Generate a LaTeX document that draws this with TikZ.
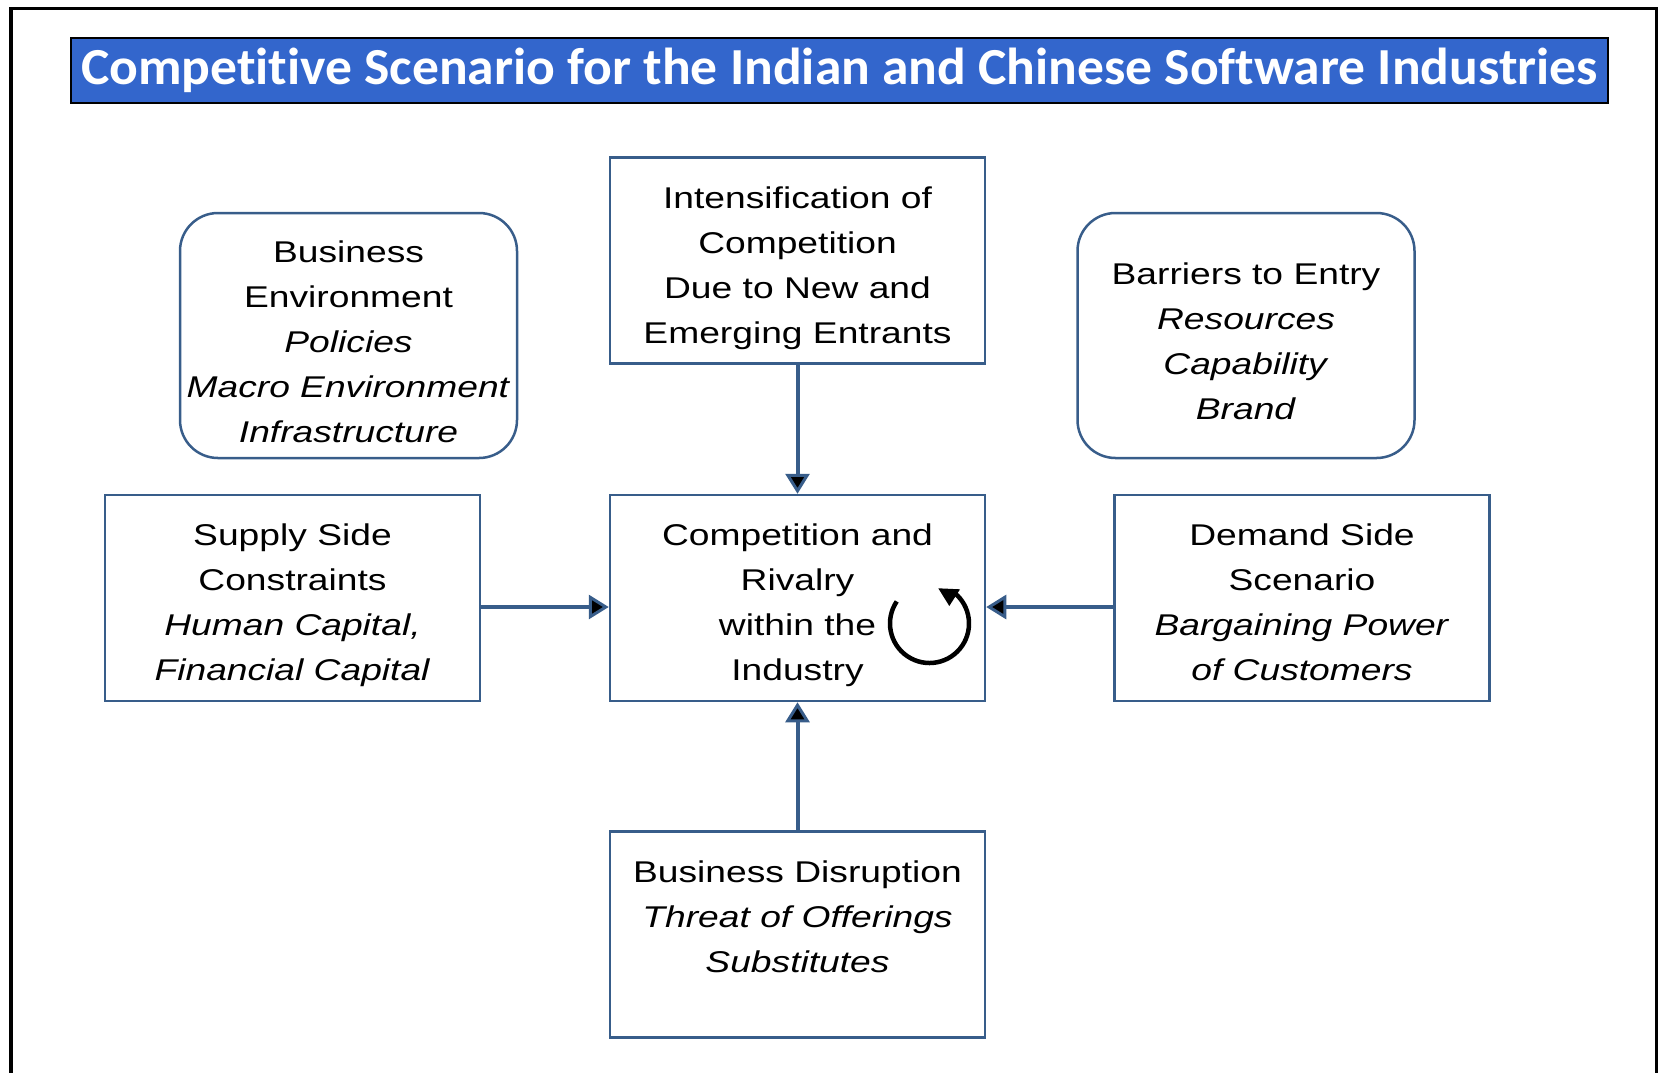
\documentclass[tikz,border=0pt]{standalone}
\usepackage{fontspec}
\setmainfont{Liberation Sans}[FakeStretch=1.24]
\newfontfamily\titlefont{Carlito}[Ligatures=NoCommon,FakeStretch=1.03]
\usepackage{tikz}
\usetikzlibrary{arrows.meta}
\definecolor{boxblue}{RGB}{56,93,138}
\definecolor{titleblue}{RGB}{51,102,204}
\tikzset{
boxtext/.style={ % Text inside every box
align=center,
inner sep=0pt,
font=\fontsize{30}{45}\selectfont},
sqbox/.style={ % Plain rectangles
boxtext,
draw=boxblue,
line width=2.5pt,
text height=171.4pt, % lines sit a little low
text depth=6pt,
minimum width=375pt,
minimum height=206pt},
roundbox/.style={ % Rounded rectangles on top
sqbox,
rounded corners=38pt,
text height=173.6pt,
minimum width=337pt,
minimum height=245pt},
titlebar/.style={ % Blue heading
fill=titleblue,
draw=black,
line width=2.5pt,
text=white,
inner sep=0pt,
minimum width=1537pt,
minimum height=65pt,
font=\titlefont\bfseries\fontsize{52}{60}\selectfont},
every edge/.style={ % Arrows pointing into the middle box
draw=boxblue,
line width=4pt,
-{Triangle[length=20pt,width=24pt,line width=3pt,fill=black]}},
spin/.style={ % Circular arrow
draw=black,
line width=4.5pt}}

\begin{document}
\begin{tikzpicture}[x=1pt,y=-1pt]
\useasboundingbox (0,0) rectangle (1661,1072);
\draw[line width=3.5pt] (11,1090) -- (11,8.5) -- (1656.5,8.5) -- (1656.5,1090);

\node[titlebar] (title) at (839.5,70.5) {Competitive Scenario for the Indian and Chinese Software Industries};

\node[roundbox , text height=220.8pt] (busenv) at (348.5,335.5) {Business\\ Environment\\ \textit{Policies}\\ \textit{Macro Environment}\\ \textit{Infrastructure}};
\node[sqbox ] (intens) at (797.5,260.5) {Intensification of\\ Competition\\ Due to New and\\ Emerging Entrants};
\node[roundbox ] (barriers) at (1246,335.5) {Barriers to Entry\\ \textit{Resources}\\ \textit{Capability}\\ \textit{Brand}};
\node[sqbox ] (supply) at (292.5,598) {Supply Side\\ Constraints\\ \textit{Human Capital,}\\ \textit{Financial Capital}};
\node[sqbox ] (rivalry) at (797.5,598) {Competition and\\ Rivalry\\ within the\\ Industry};
\node[sqbox ] (demand) at (1302,598) {Demand Side\\ Scenario\\ \textit{Bargaining Power}\\ \textit{of Customers}};
\node[sqbox , text height=0pt, text depth=0pt] (disrupt) at (797.5,934.5) {};
\node[boxtext ] (disrupttxt) at (797.5,917) {Business Disruption\\ \textit{Threat of Offerings}\\ \textit{Substitutes}};

% cycle of rivalry, head filled by hand
\begin{scope}[shift={(929.5,623.5)}]
\draw[spin] (-146:39.5) arc (-146:-410:39.5);
\fill (8.8,-35.2) -- (30.5,-34.2) -- (19.8,-17.5) -- cycle;
\end{scope}

\draw (intens) edge[] (rivalry) ;
\draw (disrupt) edge[] (rivalry) ;
\draw ([yshift=-9pt]supply.east) edge[] ([yshift=-9pt]rivalry.west) ;
\draw ([yshift=-9pt]demand.west) edge[] ([yshift=-9pt]rivalry.east) ;
\end{tikzpicture}
\end{document}
